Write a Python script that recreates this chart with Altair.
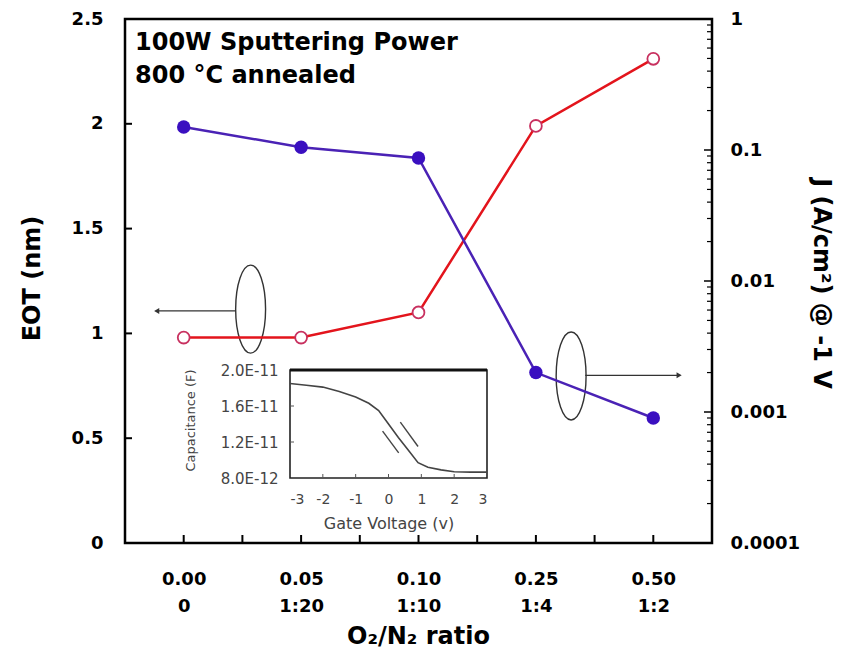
import altair as alt
import pandas as pd

# ---------------- data ----------------
ratio_top = ["0.00", "0.05", "0.10", "0.25", "0.50"]
ratio_bot = ["0", "1:20", "1:10", "1:4", "1:2"]
pos = [0, 1, 2, 3, 4]
eot_nm = [0.98, 0.98, 1.10, 1.99, 2.31]
j_acm2 = [0.150, 0.105, 0.087, 0.0020, 0.00090]

left_ticks = [0.5, 1.0, 1.5, 2.0]
bottom_ticks = [0, 0.5, 1, 1.5, 2, 2.5, 3, 3.5, 4]
right_major = [0.001, 0.01, 0.1]
right_minor = [0.0002, 0.0003, 0.0004, 0.0005, 0.0006, 0.0007, 0.0008, 0.0009,
               0.002, 0.003, 0.004, 0.005, 0.006, 0.007, 0.008, 0.009,
               0.02, 0.03, 0.04, 0.05, 0.06, 0.07, 0.08, 0.09,
               0.2, 0.3, 0.4, 0.5, 0.6, 0.7, 0.8, 0.9]

notes = ["100W Sputtering Power", "800 °C annealed"]

# ellipse / arrow annotations (x in category index units, y in EOT units)
ell_x = [0.57, 3.30]
ell_y = [1.116, 0.797]
arrow_x1 = [-0.23, 3.42]
arrow_x2 = [0.44, 4.22]
arrow_y = [1.107, 0.800]
arrow_dir = ["triangle-left", "triangle-right"]

# inset C-V curve
inset_v = [-3, -2.5, -2, -1.5, -1, -0.6, -0.3, 0, 0.3, 0.6, 0.9, 1.2, 1.6, 2, 2.5, 3]
inset_c = [1.85e-11, 1.83e-11, 1.81e-11, 1.76e-11, 1.70e-11, 1.63e-11, 1.55e-11, 1.40e-11,
           1.25e-11, 1.11e-11, 0.97e-11, 0.92e-11, 0.89e-11, 0.87e-11, 0.865e-11, 0.865e-11]
sweep_seg = ["a", "a", "b", "b"]
sweep_v = [-0.18, 0.31, 0.36, 0.90]
sweep_c = [1.32e-11, 1.08e-11, 1.42e-11, 1.15e-11]
inset_xvals = [-3, -2, -1, 0, 1, 2, 3]
inset_yvals = [8e-12, 1.2e-11, 1.6e-11, 2e-11]

# ---------------- layout ----------------
W, H = 587, 524
FONT = "DejaVu Sans"
IN_L, IN_R, IN_T, IN_B = 165, 362, 351, 459

main_df = pd.DataFrame({"pos": pos, "eot": eot_nm, "j": j_acm2})


def xs():
    return alt.Scale(domain=[-0.5, 4.5], nice=False, zero=False)


def ys_eot():
    return alt.Scale(domain=[0, 2.5], nice=False, zero=False)


def ys_j():
    return alt.Scale(type="log", domain=[0.0001, 1], nice=False)


def isx():
    return alt.Scale(domain=[-3, 3], range=[IN_L, IN_R], nice=False, zero=False)


def isy():
    return alt.Scale(domain=[8e-12, 2e-11], range=[IN_B, IN_T], nice=False, zero=False)


top_js = "[" + ",".join("'" + s + "'" for s in ratio_top) + "]"
bot_js = "[" + ",".join("'" + s + "'" for s in ratio_bot) + "]"
x_label_expr = ("datum.value % 1 == 0 ? [" + top_js + "[datum.value], " + bot_js
                + "[datum.value]] : ''")

x_axis = alt.Axis(orient="bottom", values=bottom_ticks, labelExpr=x_label_expr, ticks=False,
                  domain=False, grid=False, labelPadding=27, labelLineHeight=27,
                  labelFontSize=18, labelFont=FONT, labelFontWeight="bold", labelColor="black",
                  labelBaseline="top",
                  title="O₂/N₂ ratio", titleFont=FONT, titleFontSize=24, titleFontWeight="bold",
                  titleColor="black", titleX=293, titleY=93, titleBaseline="middle",
                  titleAlign="center")

y_axis_left = alt.Axis(orient="left", values=[0, 0.5, 1, 1.5, 2, 2.5], format="~g", ticks=False,
                       domain=False, grid=False, labelPadding=22, labelFontSize=18,
                       labelFont=FONT, labelFontWeight="bold", labelColor="black",
                       title="EOT (nm)", titleFont=FONT, titleFontSize=24, titleFontWeight="bold",
                       titleColor="black", titleX=-93, titleY=259, titleAngle=-90,
                       titleBaseline="middle", titleAlign="center")

y_axis_right = alt.Axis(orient="right", values=[0.0001, 0.001, 0.01, 0.1, 1], format="~g",
                        ticks=False, domain=False, grid=False, labelPadding=18, labelFontSize=18,
                        labelFont=FONT, labelFontWeight="bold", labelColor="black",
                        title="J  (A/cm²) @ -1 V", titleFont=FONT, titleFontSize=24,
                        titleFontWeight="bold", titleColor="black", titleX=108, titleY=264,
                        titleAngle=90, titleBaseline="middle", titleAlign="center")

ix_axis = alt.Axis(orient="bottom", offset=-(H - IN_B), values=inset_xvals,
                   labelExpr="toString(datum.value)", ticks=False,
                   domain=False, grid=False, labelPadding=14, labelFontSize=14, labelFont=FONT,
                   labelColor="#444444", labelBaseline="top",
                   title="Gate Voltage (v)", titleFont=FONT, titleFontSize=16,
                   titleFontWeight="normal", titleColor="#444444",
                   titleX=(IN_L + IN_R) / 2, titleY=45, titleBaseline="middle",
                   titleAlign="center")
iy_axis = alt.Axis(orient="left", offset=-IN_L, values=inset_yvals,
                   labelExpr="upper(format(datum.value, '.1e'))", ticks=False, domain=False,
                   grid=False, labelPadding=12, labelFontSize=15, labelFont=FONT,
                   labelColor="#444444",
                   title="Capacitance (F)", titleFont=FONT, titleFontSize=13,
                   titleFontWeight="normal", titleColor="#444444", titleX=-100,
                   titleY=401, titleAngle=-90, titleBaseline="middle", titleAlign="center")

# ---- EOT (left axis) marks ----
red_line = alt.Chart(main_df).mark_line(color="#e3141c", strokeWidth=2.5).encode(
    x=alt.X("pos:Q", scale=xs(), axis=x_axis),
    y=alt.Y("eot:Q", scale=ys_eot(), axis=y_axis_left))
red_pts = alt.Chart(main_df).mark_point(shape="circle", filled=True, fill="white",
                                        stroke="#c8305f", strokeWidth=1.8, size=140,
                                        opacity=1).encode(
    x=alt.X("pos:Q", scale=xs(), axis=None),
    y=alt.Y("eot:Q", scale=ys_eot(), axis=None))

lticks = alt.Chart(pd.DataFrame({"v": left_ticks})).mark_rule(color="black", strokeWidth=2).encode(
    y=alt.Y("v:Q", scale=ys_eot(), axis=None), x=alt.value(0), x2=alt.value(7))
bticks = alt.Chart(pd.DataFrame({"v": bottom_ticks})).mark_rule(color="black", strokeWidth=2).encode(
    x=alt.X("v:Q", scale=xs(), axis=None), y=alt.value(H), y2=alt.value(H - 8))

ell_df = pd.DataFrame({"x": ell_x, "y": ell_y})
ell_path = ("M0,-1 C0.188,-1 0.34,-0.552 0.34,0 C0.34,0.552 0.188,1 0,1 "
            "C-0.188,1 -0.34,0.552 -0.34,0 C-0.34,-0.552 -0.188,-1 0,-1 Z")
ellipses = alt.Chart(ell_df).mark_point(shape=ell_path, size=7744, filled=False,
                                        color="#333333", strokeWidth=1.4, opacity=1).encode(
    x=alt.X("x:Q", scale=xs(), axis=None), y=alt.Y("y:Q", scale=ys_eot(), axis=None))

arr_df = pd.DataFrame({"x1": arrow_x1, "x2": arrow_x2, "y": arrow_y,
                       "head": [arrow_x1[0], arrow_x2[1]], "shape": arrow_dir})
arr_lines = alt.Chart(arr_df).mark_rule(color="#333333", strokeWidth=1.3).encode(
    x=alt.X("x1:Q", scale=xs(), axis=None), x2="x2:Q",
    y=alt.Y("y:Q", scale=ys_eot(), axis=None))
arr_heads = alt.Chart(arr_df).mark_point(filled=True, color="#333333", size=35,
                                         opacity=1).encode(
    x=alt.X("head:Q", scale=xs(), axis=None), y=alt.Y("y:Q", scale=ys_eot(), axis=None),
    shape=alt.Shape("shape:N", scale=None, legend=None))

txt1 = alt.Chart(pd.DataFrame({"t": [notes[0]]})).mark_text(
    align="left", baseline="alphabetic", font=FONT, fontSize=24, fontWeight="bold",
    color="black").encode(text="t:N", x=alt.value(10), y=alt.value(31))
txt2 = alt.Chart(pd.DataFrame({"t": [notes[1]]})).mark_text(
    align="left", baseline="alphabetic", font=FONT, fontSize=24, fontWeight="bold",
    color="black").encode(text="t:N", x=alt.value(10), y=alt.value(64))

# ---- J (right log axis) marks ----
blue_line = alt.Chart(main_df).mark_line(color="#4a22b5", strokeWidth=2.5).encode(
    x=alt.X("pos:Q", scale=xs(), axis=None),
    y=alt.Y("j:Q", scale=ys_j(), axis=y_axis_right))
blue_pts = alt.Chart(main_df).mark_point(shape="circle", filled=True, color="#3a0fc0",
                                         size=180, opacity=1).encode(
    x=alt.X("pos:Q", scale=xs(), axis=None),
    y=alt.Y("j:Q", scale=ys_j(), axis=None))
rmaj = alt.Chart(pd.DataFrame({"v": right_major})).mark_rule(color="black", strokeWidth=1.5).encode(
    y=alt.Y("v:Q", scale=ys_j(), axis=None), x=alt.value(W), x2=alt.value(W - 8))
rmin = alt.Chart(pd.DataFrame({"v": right_minor})).mark_rule(color="black", strokeWidth=1.2).encode(
    y=alt.Y("v:Q", scale=ys_j(), axis=None), x=alt.value(W), x2=alt.value(W - 5))

# ---- inset ----
curve_df = pd.DataFrame({"v": inset_v, "c": inset_c})
inset_curve = alt.Chart(curve_df).mark_line(color="#444444", strokeWidth=1.6).encode(
    x=alt.X("v:Q", scale=isx(), axis=ix_axis),
    y=alt.Y("c:Q", scale=isy(), axis=iy_axis))

sweep_df = pd.DataFrame({"seg": sweep_seg, "v": sweep_v, "c": sweep_c})
inset_sweep = alt.Chart(sweep_df).mark_line(color="#444444", strokeWidth=1.4).encode(
    x=alt.X("v:Q", scale=isx(), axis=None), y=alt.Y("c:Q", scale=isy(), axis=None),
    detail="seg:N")

frame_df = pd.DataFrame({"x1": [inset_xvals[0]], "x2": [inset_xvals[-1]],
                         "y1": [inset_yvals[0]], "y2": [inset_yvals[-1]]})
inset_frame = alt.Chart(frame_df).mark_rect(fillOpacity=0, stroke="#222222",
                                            strokeWidth=1.6).encode(
    x=alt.X("x1:Q", scale=isx(), axis=None), x2="x2:Q",
    y=alt.Y("y1:Q", scale=isy(), axis=None), y2="y2:Q")
inset_top = alt.Chart(frame_df).mark_rule(color="#111111", strokeWidth=3).encode(
    x=alt.X("x1:Q", scale=isx(), axis=None), x2="x2:Q",
    y=alt.Y("y2:Q", scale=isy(), axis=None))
ixt = alt.Chart(pd.DataFrame({"v": inset_xvals[1:-1]})).mark_rule(color="#555555", strokeWidth=1).encode(
    x=alt.X("v:Q", scale=isx(), axis=None), y=alt.value(IN_B), y2=alt.value(IN_B - 4))
iyt = alt.Chart(pd.DataFrame({"v": inset_yvals[1:-1]})).mark_rule(color="#555555", strokeWidth=1).encode(
    y=alt.Y("v:Q", scale=isy(), axis=None), x=alt.value(IN_L), x2=alt.value(IN_L + 4))

chart = alt.layer(
    inset_frame, inset_top, inset_curve, inset_sweep, ixt, iyt,
    lticks, bticks, rmaj, rmin, ellipses, arr_lines, arr_heads, txt1, txt2,
    red_line, blue_line, red_pts, blue_pts,
).resolve_scale(x="independent", y="independent").resolve_axis(
    x="independent", y="independent").properties(
    width=W, height=H,
    autosize=alt.AutoSizeParams(type="none"),
    padding={"left": 125, "top": 19, "right": 851 - 125 - W, "bottom": 654 - 19 - H},
    background="white",
).configure_view(stroke="black", strokeWidth=2.5)

chart.save("out.html", embed_options={"renderer": "svg", "actions": False})
